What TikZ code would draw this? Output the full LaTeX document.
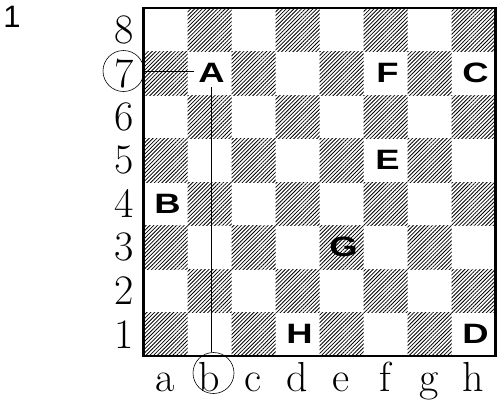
\documentclass[tikz,border=0pt]{standalone}
\usepackage{fontspec}
\usetikzlibrary{patterns.meta,positioning}
\newfontfamily\piecefont{Liberation Sans}
\tikzset{
  hatch/.style={pattern={Lines[angle=45,distance=2.7pt,line width=0.8pt]}},
  piece/.style={font=\piecefont\bfseries\fontsize{28}{28}\selectfont,
    inner sep=0pt, xscale=1.3, transform shape},
  coordlabel/.style={font=\fontsize{42}{42}\selectfont, inner sep=0pt},
  ring/.style={circle, draw, line width=0.6pt, minimum size=41pt, inner sep=0pt},
  pointer/.style={line width=0.6pt}
}
\newcommand{\sqw}{44}
\newcommand{\sqh}{43.5}

\begin{document}
\begin{tikzpicture}[x=1pt,y=-1pt]
  \useasboundingbox (0,0) rectangle (497,402);
  % board squares, dark where file+rank is even
  \foreach \f in {1,...,8} {
    \foreach \r in {1,...,8} {
      \pgfmathtruncatemacro{\parity}{mod(\f+\r,2)}
      \ifnum\parity=0
        \fill[hatch] ({143.5+(\f-1)*\sqw},{8+(8-\r)*\sqh}) rectangle ++(\sqw,\sqh);
      \fi
    }
  }
  \draw[line width=2.8pt] (143.5,8) rectangle (495.5,356);
  % rank and file labels
  \foreach \r in {1,...,8} {
    \node[coordlabel] (rank\r) at (124,{8+(8.5-\r)*\sqh}) {\r};
  }
  \foreach \f/\l in {1/a,2/b,3/c,4/d,5/e,6/f,7/g,8/h} {
    \node[coordlabel, anchor=base] (file\l) at ({143.5+(\f-0.5)*\sqw},391) {\l};
  }
  % pieces
  \foreach \f/\r/\p in {2/7/A,1/4/B,8/7/C,8/1/D,6/5/E,6/7/F,5/3/G,4/1/H} {
    \node[piece] (p\p) at ({143.5+(\f-0.5)*\sqw+2},{8+(8.5-\r)*\sqh}) {\p};
  }
  \node[font=\piecefont\fontsize{31}{31}\selectfont, inner sep=0pt] (fig) at (12,17) {1};
  % circled coordinates of A
  \node[ring] (ring7) at (123.5,71) {};
  \node[ring] (ringb) at (213.5,373) {};
  \draw[pointer] (ring7.east) -- ([xshift=-4pt]ring7.east -| pA.west);
  \draw[pointer] ([yshift=-4pt]pA.south) -- (pA.south |- ringb.north);
\end{tikzpicture}
\end{document}
